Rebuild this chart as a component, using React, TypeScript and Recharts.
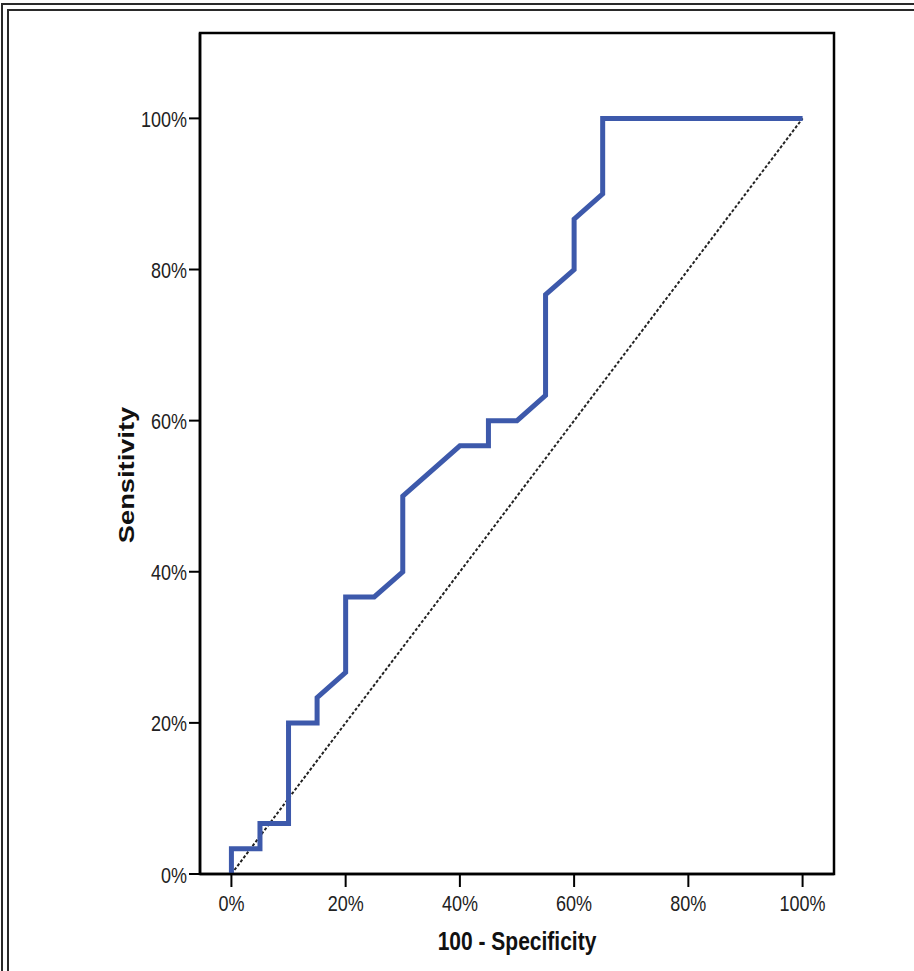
import React from 'react';
import { LineChart, Line, XAxis, YAxis, ReferenceArea } from 'recharts';

// ROC curve points (percent)
const fpr = [0, 0, 5, 5, 10, 10, 15, 15, 20, 20, 25, 30, 30, 40, 45, 45, 50, 55, 55, 60, 60, 65, 65, 100];
const tpr = [0, 3.33, 3.33, 6.67, 6.67, 20, 20, 23.33, 26.67, 36.67, 36.67, 40, 50, 56.67, 56.67, 60, 60, 63.33, 76.67, 80, 86.67, 90, 100, 100];
const refX = [0, 100];
const refY = [0, 100];
const ticks = [0, 20, 40, 60, 80, 100];
const xDomain = [-5.5, 105.5];
const yDomain = [0, 111.3];

const rocData = fpr.map((x, i) => ({ x, y: tpr[i] }));
const refData = refX.map((x, i) => ({ x, y: refY[i] }));

const FONT = '"Liberation Sans", Arial, sans-serif';
const BLUE = '#3d59ab';

const XTick = (props: any) => {
  const { x, y, payload } = props;
  return (
    <g transform={`translate(${x},${y})`}>
      <text transform="scale(1,1.25)" textAnchor="middle" dy={18} fontSize={18} fill="#222" fontFamily={FONT}>
        {payload.value}%
      </text>
    </g>
  );
};

const YTick = (props: any) => {
  const { x, y, payload } = props;
  return (
    <g transform={`translate(${x},${y})`}>
      <text transform="scale(1,1.25)" textAnchor="end" dy={6.8} fontSize={18} fill="#222" fontFamily={FONT}>
        {payload.value}%
      </text>
    </g>
  );
};

const XTitle = () => (
  <g transform="translate(517,950)">
    <text transform="scale(1,1.2)" textAnchor="middle" fontSize={21} fontWeight="bold" fill="#111" fontFamily={FONT}>
      100 - Specificity
    </text>
  </g>
);

const YTitle = () => (
  <g transform="translate(134,475) scale(1,1.24) rotate(-90)">
    <text textAnchor="middle" fontSize={22} fontWeight="bold" fill="#111" fontFamily={FONT}>
      Sensitivity
    </text>
  </g>
);

const frameLine = (left: number, top: number, w: number, h: number) => (
  <div style={{ position: 'absolute', left, top, width: w, height: h, background: '#2a2a2a' }} />
);

export default function App() {
  return (
    <div style={{ position: 'fixed', left: 0, top: 0, width: 914, height: 971, overflow: 'hidden', background: '#fff' }}>
      {frameLine(1, 3, 2, 971)}
      {frameLine(1, 3, 914, 2)}
      {frameLine(7, 9, 2, 971)}
      {frameLine(7, 9, 914, 2)}
      <div style={{ position: 'absolute', left: 0, top: 0 }}>
        <LineChart width={914} height={971} data={rocData} margin={{ top: 33, right: 80, bottom: 37, left: 140 }}>
          <XAxis
            type="number"
            dataKey="x"
            domain={xDomain}
            ticks={ticks}
            allowDataOverflow
            height={60}
            tickSize={13}
            axisLine={{ stroke: '#000', strokeWidth: 2.5 }}
            tickLine={{ stroke: '#000', strokeWidth: 2 }}
            tick={<XTick />}
            label={<XTitle />}
          />
          <YAxis
            type="number"
            domain={yDomain}
            ticks={ticks}
            allowDataOverflow
            width={60}
            tickSize={11}
            axisLine={{ stroke: '#000', strokeWidth: 2.5 }}
            tickLine={{ stroke: '#000', strokeWidth: 2 }}
            tick={<YTick />}
            label={<YTitle />}
          />
          <ReferenceArea
            x1={xDomain[0]}
            x2={xDomain[1]}
            y1={yDomain[0]}
            y2={yDomain[1]}
            fill="none"
            fillOpacity={0}
            stroke="#000"
            strokeWidth={2.5}
            ifOverflow="visible"
          />
          <Line
            data={refData}
            dataKey="y"
            type="linear"
            stroke="#222"
            strokeWidth={2}
            strokeDasharray="3 2"
            dot={false}
            isAnimationActive={false}
          />
          <Line
            data={rocData}
            dataKey="y"
            type="linear"
            stroke={BLUE}
            strokeWidth={5}
            strokeLinejoin="miter"
            dot={false}
            isAnimationActive={false}
          />
        </LineChart>
      </div>
    </div>
  );
}
